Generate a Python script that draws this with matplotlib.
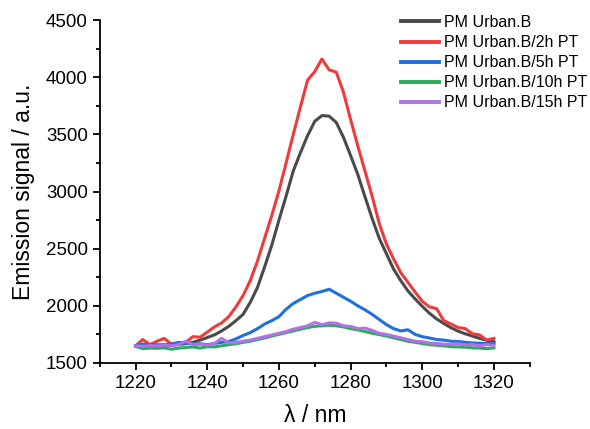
import matplotlib
matplotlib.use("Agg")
import matplotlib.pyplot as plt
from matplotlib.ticker import MultipleLocator

plt.rcParams['font.family'] = ['Liberation Sans', 'DejaVu Sans']

wavelength = list(range(1220, 1321, 2))

urban_b = [1652, 1650, 1650, 1652, 1655, 1658, 1662, 1668, 1680, 1700,
           1722, 1745, 1780, 1820, 1870, 1925, 2030, 2160, 2340, 2530,
           2750, 2960, 3180, 3340, 3490, 3615, 3665, 3660, 3605, 3475,
           3315, 3150, 2955, 2765, 2590, 2455, 2320, 2220, 2130, 2060,
           1995, 1935, 1885, 1845, 1808, 1778, 1755, 1735, 1715, 1698,
           1685]

urban_b_2h = [1650, 1705, 1660, 1690, 1715, 1665, 1675, 1680, 1730, 1725,
              1770, 1815, 1850, 1905, 1990, 2090, 2220, 2390, 2590, 2790,
              3005, 3250, 3500, 3740, 3975, 4050, 4160, 4065, 4045, 3870,
              3630, 3400, 3180, 2960, 2720, 2540, 2410, 2290, 2205, 2120,
              2040, 1990, 1975, 1870, 1840, 1810, 1800, 1755, 1745, 1700,
              1715]

urban_b_5h = [1650, 1665, 1655, 1660, 1658, 1665, 1680, 1672, 1665, 1668,
              1660, 1670, 1680, 1688, 1710, 1740, 1765, 1800, 1840, 1870,
              1905, 1970, 2020, 2055, 2090, 2110, 2125, 2145, 2110, 2075,
              2040, 2000, 1965, 1925, 1880, 1835, 1800, 1780, 1790, 1750,
              1730, 1718, 1705, 1700, 1690, 1688, 1680, 1675, 1672, 1670,
              1672]

urban_b_10h = [1645, 1625, 1630, 1628, 1632, 1620, 1630, 1635, 1640, 1630,
               1642, 1640, 1650, 1660, 1668, 1680, 1690, 1705, 1718, 1735,
               1750, 1765, 1780, 1795, 1810, 1820, 1825, 1830, 1825, 1815,
               1800, 1790, 1775, 1760, 1748, 1735, 1720, 1705, 1690, 1680,
               1670, 1660, 1655, 1650, 1642, 1640, 1638, 1632, 1630, 1625,
               1632]

urban_b_15h = [1650, 1645, 1652, 1648, 1655, 1650, 1660, 1690, 1660, 1665,
               1655, 1670, 1716, 1675, 1680, 1690, 1700, 1715, 1730, 1745,
               1760, 1775, 1795, 1810, 1825, 1855, 1835, 1850, 1848, 1825,
               1820, 1800, 1805, 1785, 1760, 1750, 1735, 1720, 1705, 1690,
               1685, 1675, 1670, 1665, 1660, 1668, 1658, 1660, 1650, 1660,
               1655]

series = [
    ("PM Urban.B", urban_b, "#4a4a4a"),
    ("PM Urban.B/2h PT", urban_b_2h, "#ef3b3b"),
    ("PM Urban.B/5h PT", urban_b_5h, "#1f6fdf"),
    ("PM Urban.B/10h PT", urban_b_10h, "#2bab5e"),
    ("PM Urban.B/15h PT", urban_b_15h, "#b172e6"),
]

fig = plt.figure(figsize=(5.9, 4.29), dpi=100)
ax = fig.add_axes([0.169, 0.154, 0.729, 0.799])

for label, vals, color in series:
    ax.plot(wavelength, vals, color=color, lw=2.2, label=label)

ax.set_xlim(1210, 1330)
ax.set_ylim(1500, 4500)
ax.xaxis.set_major_locator(MultipleLocator(20))
ax.xaxis.set_minor_locator(MultipleLocator(10))
ax.yaxis.set_major_locator(MultipleLocator(500))
ax.yaxis.set_minor_locator(MultipleLocator(250))

for s in ['top', 'right']:
    ax.spines[s].set_visible(False)
for s in ['left', 'bottom']:
    ax.spines[s].set_linewidth(1.3)

ax.tick_params(which='major', direction='out', length=5, width=1.3, labelsize=13.5)
ax.tick_params(which='minor', direction='out', length=3, width=1.3)
ax.set_xticks([1220, 1240, 1260, 1280, 1300, 1320])

ax.set_xlabel("λ / nm", fontsize=16.5, labelpad=9)
ax.set_ylabel("Emission signal / a.u.", fontsize=16.5, labelpad=8)

leg = ax.legend(loc='upper right', bbox_to_anchor=(0.995, 0.965),
                bbox_transform=fig.transFigure, frameon=False,
                fontsize=11.5, handlelength=2.4, labelspacing=0.32,
                handletextpad=0.3, borderaxespad=0.0, borderpad=0.0)
for line in leg.get_lines():
    line.set_linewidth(2.8)

fig.savefig("out.png", dpi=100)
